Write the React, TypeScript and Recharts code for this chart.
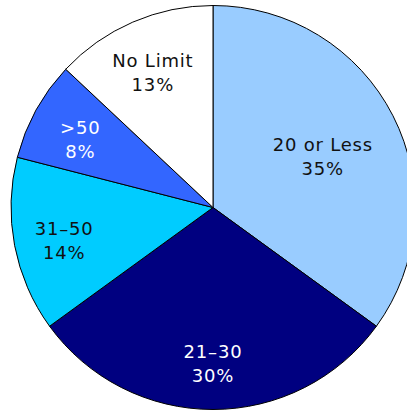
import { Cell, Pie, PieChart } from "recharts";

const categories = ["20 or Less", "21–30", "31–50", ">50", "No Limit"];
const shares = [35, 30, 14, 8, 13];
const colors = ["#99CCFF", "#000080", "#00CCFF", "#3366FF", "#FFFFFF"];
const textColors = ["#111111", "#FFFFFF", "#111111", "#FFFFFF", "#111111"];

const data = categories.map((name, i) => ({ name, value: shares[i] }));

const RADIAN = Math.PI / 180;

const renderLabel = (props: any) => {
  const { cx, cy, midAngle, outerRadius, index } = props;
  // the big first slice keeps its label further in
  const r = outerRadius * (index === 0 ? 0.61 : 0.75);
  const x = cx + r * Math.cos(-midAngle * RADIAN);
  const y = cy + r * Math.sin(-midAngle * RADIAN);
  return (
    <text
      x={x}
      y={y}
      fill={textColors[index]}
      textAnchor="middle"
      fontFamily="DejaVu Sans, Verdana, sans-serif"
      fontSize={18}
      letterSpacing={0.8}
    >
      <tspan x={x} dy={-1}>
        {categories[index]}
      </tspan>
      <tspan x={x} dy={24}>
        {shares[index]}%
      </tspan>
    </text>
  );
};

export default function App() {
  return (
    <div style={{ position: "absolute", left: 0, top: 0, background: "#fff" }}>
      <PieChart
        width={407}
        height={413}
        margin={{ top: 0, right: 0, bottom: 0, left: 0 }}
      >
        <Pie
          data={data}
          dataKey="value"
          cx={213}
          cy={207.5}
          outerRadius={202}
          startAngle={90}
          endAngle={-270}
          stroke="#000"
          strokeWidth={1}
          label={renderLabel}
          labelLine={false}
          isAnimationActive={false}
        >
          {data.map((d, i) => (
            <Cell key={d.name} fill={colors[i]} />
          ))}
        </Pie>
      </PieChart>
    </div>
  );
}
